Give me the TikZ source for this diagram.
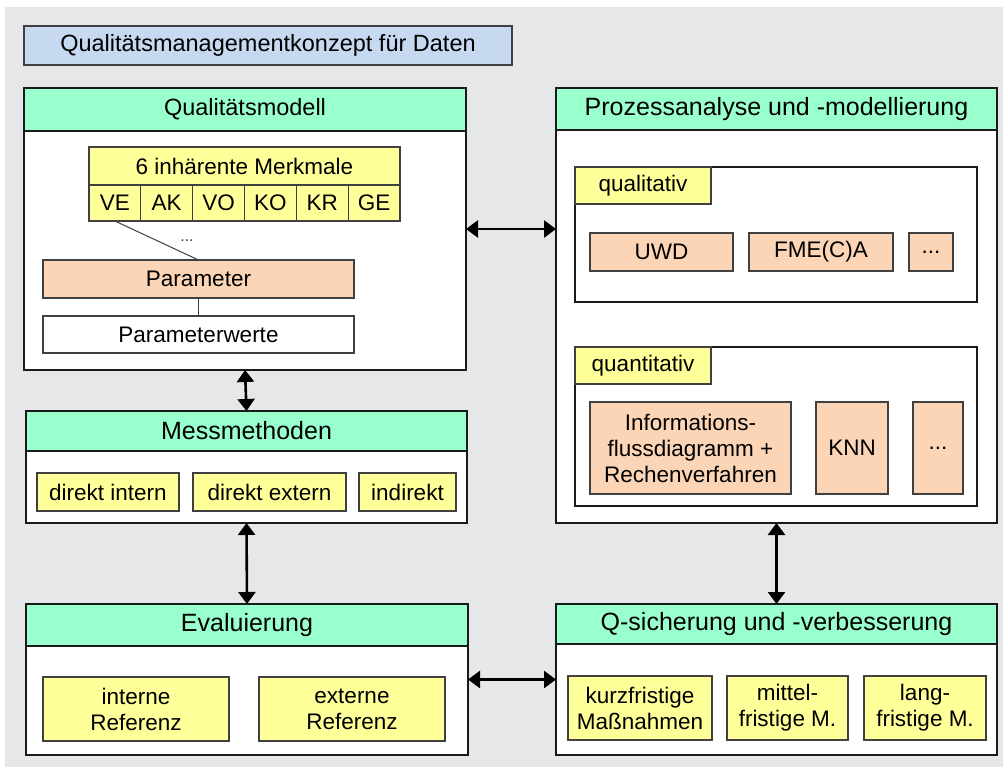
\documentclass[tikz,border=0pt]{standalone}
\usepackage{fontspec}
\setmainfont{Liberation Sans}
\usetikzlibrary{arrows.meta}
\definecolor{bggray}{HTML}{E6E7E9}
\definecolor{hdgreen}{HTML}{99FFCC}
\definecolor{ttblue}{HTML}{C6D9F1}
\definecolor{cyellow}{HTML}{FFFF99}
\definecolor{cpeach}{HTML}{FBD5B5}
\definecolor{edge}{HTML}{1A1A1A}
\definecolor{iedge}{HTML}{404040}
\tikzset{
  x=1pt, y=-1pt,
  base/.style={anchor=north west, inner sep=0pt, outer sep=0pt, align=center},
  outerbox/.style={base, draw=edge, line width=2pt, fill=white},
  headbox/.style={base, draw=edge, line width=2pt, fill=hdgreen, font=\fontsize{25}{28}\selectfont},
  titlebox/.style={base, draw=iedge, line width=1.3pt, fill=ttblue, font=\fontsize{23.5}{27}\selectfont},
  groupbox/.style={base, draw=edge, line width=2pt, fill=white},
  ybox/.style={base, draw=iedge, line width=1.2pt, fill=cyellow, font=\fontsize{22.5}{26}\selectfont},
  pbox/.style={base, draw=iedge, line width=1.2pt, fill=cpeach, font=\fontsize{22.5}{26}\selectfont},
  wbox/.style={base, draw=iedge, line width=1.2pt, fill=white, font=\fontsize{22.5}{26}\selectfont},
  link/.style={draw=iedge, line width=1pt},
  biarrow/.style={line width=2.6pt, draw=black, {Triangle[length=12pt,width=17pt]}-{Triangle[length=12pt,width=17pt]}}
}
\begin{document}
\begin{tikzpicture}
\useasboundingbox (0,0) rectangle (1003,767);
\fill[white] (0,0) rectangle (1003,767);
\fill[bggray] (5,7) rectangle (1003,767);

% title
\node[titlebox, minimum width=488, minimum height=39] (title) at (24,26) {Qualitätsmanagementkonzept für Daten};

% Qualitaetsmodell
\node[outerbox, minimum width=442, minimum height=282] (qm) at (24,88) {};
\node[headbox, minimum width=442, minimum height=43, font=\fontsize{23.5}{27}\selectfont] (qmh) at (24,88) {Qualitätsmodell};
\node[ybox, minimum width=311, minimum height=38] (mk) at (89,147) {6 inhärente Merkmale};
\node[ybox, minimum width=51.83, minimum height=36] (ve) at (89,185) {VE};
\node[ybox, minimum width=51.83, minimum height=36] (ak) at (140.83,185) {AK};
\node[ybox, minimum width=51.83, minimum height=36] (vo) at (192.67,185) {VO};
\node[ybox, minimum width=51.83, minimum height=36] (ko) at (244.5,185) {KO};
\node[ybox, minimum width=51.83, minimum height=36] (kr) at (296.33,185) {KR};
\node[ybox, minimum width=51.83, minimum height=36] (ge) at (348.17,185) {GE};
\node[pbox, minimum width=311, minimum height=38] (par) at (43,260) {Parameter};
\node[wbox, minimum width=311, minimum height=37] (pw) at (43,316) {Parameterwerte};
\draw[link] (ve.south) -- (par.north);
\draw[link] (par.south) -- (pw.north);
\node[anchor=center, inner sep=0pt, text=iedge, font=\fontsize{16}{18}\selectfont] (mdots) at (187,241) {...};

% Messmethoden
\node[outerbox, minimum width=441, minimum height=112] (mm) at (26,411) {};
\node[headbox, minimum width=441, minimum height=40] (mmh) at (26,411) {Messmethoden};
\node[ybox, minimum width=142, minimum height=38] (di) at (37,473) {direkt intern};
\node[ybox, minimum width=153, minimum height=38] (de) at (193,473) {direkt extern};
\node[ybox, minimum width=97, minimum height=38] (ind) at (359,473) {indirekt};

% Evaluierung
\node[outerbox, minimum width=442, minimum height=151] (ev) at (26,604) {};
\node[headbox, minimum width=442, minimum height=42] (evh) at (26,604) {Evaluierung};
\node[ybox, minimum width=186, minimum height=64] (ir) at (43,677) {interne\\Referenz};
\node[ybox, minimum width=186, minimum height=64] (er) at (259,677) {externe\\Referenz};

% Prozessanalyse
\node[outerbox, minimum width=441, minimum height=435] (pa) at (556,88) {};
\node[headbox, minimum width=441, minimum height=42] (pah) at (556,88) {Prozessanalyse und -modellierung};
\node[groupbox, minimum width=402, minimum height=135] (ql) at (575,167) {};
\node[ybox, minimum width=136, minimum height=37] (qlt) at (575,167) {qualitativ};
\node[pbox, minimum width=143, minimum height=38] (uwd) at (590,233) {UWD};
\node[pbox, minimum width=144, minimum height=38] (fme) at (749,233) {FME(C)A};
\node[pbox, minimum width=44, minimum height=38] (qld) at (909,233) {...};
\node[groupbox, minimum width=402, minimum height=159] (qn) at (575,347) {};
\node[ybox, minimum width=136, minimum height=37] (qnt) at (575,347) {quantitativ};
\node[pbox, minimum width=201, minimum height=92] (inf) at (590,402) {Informations-\\flussdiagramm +\\Rechenverfahren};
\node[pbox, minimum width=72, minimum height=92] (knn) at (816,402) {KNN};
\node[pbox, minimum width=50, minimum height=92] (qnd) at (913,402) {...};

% Q-sicherung
\node[outerbox, minimum width=441, minimum height=151] (qs) at (556,604) {};
\node[headbox, minimum width=441, minimum height=40] (qsh) at (556,604) {Q-sicherung und -verbesserung};
\node[ybox, minimum width=144, minimum height=64] (kf) at (568,676) {kurzfristige\\Maßnahmen};
\node[ybox, minimum width=121, minimum height=64] (mf) at (727,676) {mittel-\\fristige M.};
\node[ybox, minimum width=122, minimum height=64] (lf) at (864,676) {lang-\\fristige M.};

% connectors
\draw[biarrow] (qm.east) -- (qm.east -| pa.west);
\draw[biarrow] (qm.south) -- (mm.north);
\draw[biarrow] (mm.south) -- (ev.north);
\draw[biarrow] (pa.south) -- (qs.north);
\draw[biarrow] (ev.east) -- (qs.west);
\end{tikzpicture}
\end{document}
